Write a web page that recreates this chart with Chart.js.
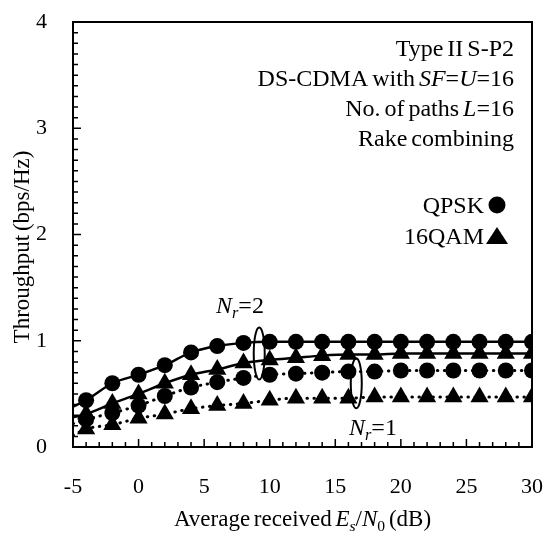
<!DOCTYPE html>
<html>
<head>
<meta charset="utf-8">
<script src="https://cdn.jsdelivr.net/npm/chart.js@4.4.0/dist/chart.umd.min.js"></script>
<style>
  body { margin: 0; background: #fff; }
  canvas { display: block; }
</style>
</head>
<body>
<canvas id="thr-chart" width="548" height="545"></canvas>
<script>
const snr = [-4, -2, 0, 2, 4, 6, 8, 10, 12, 14, 16, 18, 20, 22, 24, 26, 28, 30];
const qpskNr2 = [0.44, 0.60, 0.68, 0.77, 0.89, 0.95, 0.98, 0.99, 0.99, 0.99, 0.99, 0.99, 0.99, 0.99, 0.99, 0.99, 0.99, 0.99];
const qpskNr1 = [0.26, 0.32, 0.39, 0.48, 0.56, 0.61, 0.65, 0.68, 0.69, 0.70, 0.71, 0.71, 0.72, 0.72, 0.72, 0.72, 0.72, 0.72];
const qamNr2 = [0.31, 0.41, 0.50, 0.60, 0.68, 0.73, 0.79, 0.82, 0.84, 0.86, 0.87, 0.87, 0.88, 0.88, 0.88, 0.88, 0.88, 0.88];
const qamNr1 = [0.17, 0.21, 0.27, 0.31, 0.36, 0.39, 0.41, 0.44, 0.46, 0.46, 0.46, 0.47, 0.47, 0.47, 0.47, 0.47, 0.47, 0.47];
// curve values at -5 dB, where the lines start
const startSnr = -5;
const startVals = { qpskNr2: 0.38, qpskNr1: 0.22, qamNr2: 0.28, qamNr1: 0.11 };
const xTicks = [-5, 0, 5, 10, 15, 20, 25, 30];
const yTicks = [0, 1, 2, 3, 4];

const SERIF = '"Liberation Serif", "DejaVu Serif", serif';

function pts(vals) { return snr.map((x, i) => ({ x: x, y: vals[i] })); }
function curve(vals, start) { return [{ x: startSnr, y: start }].concat(pts(vals)); }

function lineSet(vals, start, dotted) {
    return {
        data: curve(vals, start), showLine: true, borderColor: '#000', borderWidth: dotted ? 3 : 2.5,
        borderDash: dotted ? [0.5, 6.5] : [], borderCapStyle: 'round',
        pointRadius: 0, fill: false, cubicInterpolationMode: 'monotone', order: 2
    };
}
function markSet(vals, style) {
    return {
        data: pts(vals), showLine: false, pointStyle: style,
        pointRadius: style === 'circle' ? 8 : 10.5,
        pointBackgroundColor: '#000', pointBorderColor: '#000', pointBorderWidth: 0, order: 1
    };
}

// draw text made of pieces: {t, it, sub}
function rich(ctx, segs, x, y, size, align) {
    const parts = segs.map(s => {
        const fs = s.sub ? size * 0.68 : size;
        const font = (s.it ? 'italic ' : '') + fs + 'px ' + SERIF;
        ctx.font = font;
        return { t: s.t, font: font, w: ctx.measureText(s.t).width, dy: s.sub ? size * 0.22 : 0 };
    });
    const total = parts.reduce((a, p) => a + p.w, 0);
    let cx = align === 'right' ? x - total : (align === 'center' ? x - total / 2 : x);
    ctx.textAlign = 'left';
    ctx.textBaseline = 'alphabetic';
    parts.forEach(p => { ctx.font = p.font; ctx.fillText(p.t, cx, y + p.dy); cx += p.w; });
    return total;
}

const decor = {
    id: 'decor',
    afterDraw(chart) {
        const ctx = chart.ctx, a = chart.chartArea;
        const xs = chart.scales.x, ys = chart.scales.y;
        ctx.save();
        ctx.strokeStyle = '#000';
        ctx.fillStyle = '#000';
        ctx.lineWidth = 2;
        ctx.strokeRect(a.left, a.top, a.right - a.left, a.bottom - a.top);
        // inward ticks
        ctx.lineWidth = 1.5;
        ctx.beginPath();
        for (let v = xs.min; v <= xs.max + 0.001; v += 1) {
            const px = xs.getPixelForValue(v);
            const len = Math.abs(v % 5) < 0.001 ? 8 : 5;
            ctx.moveTo(px, a.bottom); ctx.lineTo(px, a.bottom - len);
        }
        for (let v = ys.min; v <= ys.max + 0.001; v += 0.1) {
            const py = ys.getPixelForValue(v);
            const len = Math.abs(v - Math.round(v)) < 0.001 ? 8 : 5;
            ctx.moveTo(a.left, py); ctx.lineTo(a.left + len, py);
        }
        ctx.stroke();

        if ('wordSpacing' in ctx) ctx.wordSpacing = '-2px';

        // axis titles
        const fs = 23;
        rich(ctx, [{ t: 'Average received ' }, { t: 'E', it: true }, { t: 's', it: true, sub: true },
            { t: '/' }, { t: 'N', it: true }, { t: '0', sub: true }, { t: ' (dB)' }],
            (a.left + a.right) / 2, 526, fs, 'center');
        ctx.save();
        ctx.translate(29, 247);
        ctx.rotate(-Math.PI / 2);
        rich(ctx, [{ t: 'Throughput (bps/Hz)' }], 0, 0, fs, 'center');
        ctx.restore();

        // info block
        const rx = 514, fi = 24;
        rich(ctx, [{ t: 'Type II S-P2' }], rx, 56, fi, 'right');
        rich(ctx, [{ t: 'DS-CDMA with ' }, { t: 'SF', it: true }, { t: '=' }, { t: 'U', it: true }, { t: '=16' }], rx, 86, fi, 'right');
        rich(ctx, [{ t: 'No. of paths ' }, { t: 'L', it: true }, { t: '=16' }], rx, 116, fi, 'right');
        rich(ctx, [{ t: 'Rake combining' }], rx, 146, fi, 'right');
        rich(ctx, [{ t: 'QPSK' }], 484, 213, fi, 'right');
        rich(ctx, [{ t: '16QAM' }], 484, 244, fi, 'right');
        ctx.beginPath();
        ctx.arc(497, 205, 8.5, 0, Math.PI * 2);
        ctx.fill();
        ctx.beginPath();
        ctx.moveTo(497, 227); ctx.lineTo(508, 244); ctx.lineTo(486, 244);
        ctx.closePath();
        ctx.fill();

        // Nr labels and ellipses
        rich(ctx, [{ t: 'N', it: true }, { t: 'r', it: true, sub: true }, { t: '=2' }], 216, 313, fi, 'left');
        rich(ctx, [{ t: 'N', it: true }, { t: 'r', it: true, sub: true }, { t: '=1' }], 349, 435, fi, 'left');
        ctx.lineWidth = 2;
        ctx.beginPath();
        ctx.ellipse(xs.getPixelForValue(9.2), ys.getPixelForValue(0.88), 5.5, 26, 0, 0, Math.PI * 2);
        ctx.stroke();
        ctx.beginPath();
        ctx.ellipse(xs.getPixelForValue(16.6), ys.getPixelForValue(0.6), 5.5, 25, 0, 0, Math.PI * 2);
        ctx.stroke();
        ctx.restore();
    }
};

const ctx = document.getElementById('thr-chart').getContext('2d');
new Chart(ctx, {
    type: 'scatter',
    data: {
        datasets: [
            lineSet(qpskNr2, startVals.qpskNr2, false),
            lineSet(qamNr2, startVals.qamNr2, false),
            lineSet(qpskNr1, startVals.qpskNr1, true),
            lineSet(qamNr1, startVals.qamNr1, true),
            markSet(qpskNr2, 'circle'),
            markSet(qpskNr1, 'circle'),
            markSet(qamNr2, 'triangle'),
            markSet(qamNr1, 'triangle')
        ]
    },
    options: {
        responsive: false,
        animation: false,
        layout: { padding: { left: 0, right: 16, top: 22, bottom: 0 } },
        plugins: { legend: { display: false }, tooltip: { enabled: false } },
        scales: {
            x: {
                type: 'linear', min: -5, max: 30,
                afterFit(s) { s.height = 98; s.paddingLeft = 0; s.paddingRight = 0; },
                grid: { display: false, drawTicks: false },
                border: { display: false },
                afterBuildTicks(s) { s.ticks = xTicks.map(v => ({ value: v })); },
                ticks: { color: '#000', padding: 27, maxRotation: 0, font: { family: SERIF, size: 22 } }
            },
            y: {
                type: 'linear', min: 0, max: 4,
                afterFit(s) { s.width = 73; s.paddingTop = 0; s.paddingBottom = 0; },
                grid: { display: false, drawTicks: false },
                border: { display: false },
                afterBuildTicks(s) { s.ticks = yTicks.map(v => ({ value: v })); },
                ticks: { color: '#000', padding: 26, font: { family: SERIF, size: 22 } }
            }
        }
    },
    plugins: [decor]
});
</script>
</body>
</html>
